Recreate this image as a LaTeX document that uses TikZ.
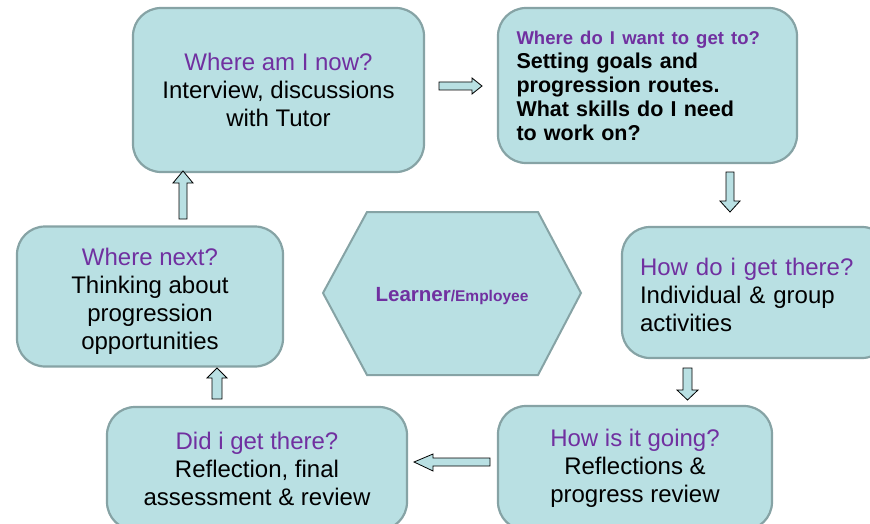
\documentclass[tikz,border=0pt]{standalone}
\usepackage{fontspec}
\setmainfont{Liberation Sans}
\definecolor{boxfill}{RGB}{185,224,227}
\definecolor{boxline}{RGB}{134,163,165}
\definecolor{titlepurple}{RGB}{112,48,160}
\begin{document}
\begin{tikzpicture}[x=1pt,y=-1pt,
  stage/.style={draw=boxline, line width=2.2pt, fill=boxfill, rounded corners=28pt,
    inner sep=0pt, font=\fontsize{24}{28}\selectfont, align=center},
  stagetext/.style={inner sep=0pt, font=\fontsize{24}{28}\selectfont, align=center},
  blockarrow/.style={draw=black, line width=0.8pt, fill=boxfill, line join=miter},
  hexa/.style={draw=boxline, line width=2pt, fill=boxfill, line join=miter}]
\useasboundingbox (0,0) rectangle (870,524);
\clip (0,0) rectangle (870,524);

% stages
\node[stage, minimum width=291pt, minimum height=164pt] (now) at (278.5,90)
  {\textcolor{titlepurple}{Where am I now?}\\Interview, discussions\\with Tutor};
\node[stage, minimum width=299pt, minimum height=155pt, text width=262pt, align=left,
  font=\bfseries\fontsize{21.5}{24}\selectfont] (want) at (647.5,85.5)
  {{\fontsize{18.5}{24}\selectfont\textcolor{titlepurple}{Where do I want to get to?}}\\
   Setting goals and\\progression routes.\\What skills do I need\\to work on?};
\node[stage, minimum width=268pt, minimum height=131pt] (how) at (756,292.5) {};
\node[stagetext, text width=232pt, align=left] (howtext) at (756,294.5)
  {\textcolor{titlepurple}{How do i get there?}\\Individual \& group\\activities};
\node[stage, minimum width=274pt, minimum height=124pt] (going) at (635,468)
  {\textcolor{titlepurple}{How is it going?}\\Reflections \&\\progress review};
\node[stage, minimum width=300pt, minimum height=123pt] (did) at (257,468.5)
  {\textcolor{titlepurple}{Did i get there?}\\Reflection, final\\assessment \& review};
\node[stage, minimum width=266pt, minimum height=140pt] (next) at (150,296.5) {};
\node[stagetext] (nexttext) at (150,301)
  {\textcolor{titlepurple}{Where next?}\\Thinking about\\progression\\opportunities};

% centre hexagon
\draw[hexa] (323,293) -- (367,212) -- (538,212) -- (581,293) -- (538,375) -- (367,375) -- cycle;
\node[text=titlepurple, font=\bfseries, inner sep=0pt] (learner) at (452,296)
  {{\fontsize{20.5}{24}\selectfont Learner}{\fontsize{15.5}{18}\selectfont /Employee}};

% block arrows
\draw[blockarrow] (439,82) -- (472,82) -- (472,78) -- (482,86) -- (472,94) -- (472,90) -- (439,90) -- cycle;
\draw[blockarrow] (726,172) -- (734,172) -- (734,201) -- (740,201) -- (730,212) -- (720,201) -- (726,201) -- cycle;
\draw[blockarrow] (683,368) -- (692,368) -- (692,390) -- (698,390) -- (687.5,400) -- (677,390) -- (683,390) -- cycle;
\draw[blockarrow] (490,458) -- (433,458) -- (433,454) -- (414,462) -- (433,471) -- (433,466) -- (490,466) -- cycle;
\draw[blockarrow] (212,399) -- (222,399) -- (222,378) -- (227,378) -- (217,368) -- (207,378) -- (212,378) -- cycle;
\draw[blockarrow] (179,219) -- (187,219) -- (187,183) -- (193,183) -- (183,171) -- (173,183) -- (179,183) -- cycle;
\end{tikzpicture}
\end{document}
